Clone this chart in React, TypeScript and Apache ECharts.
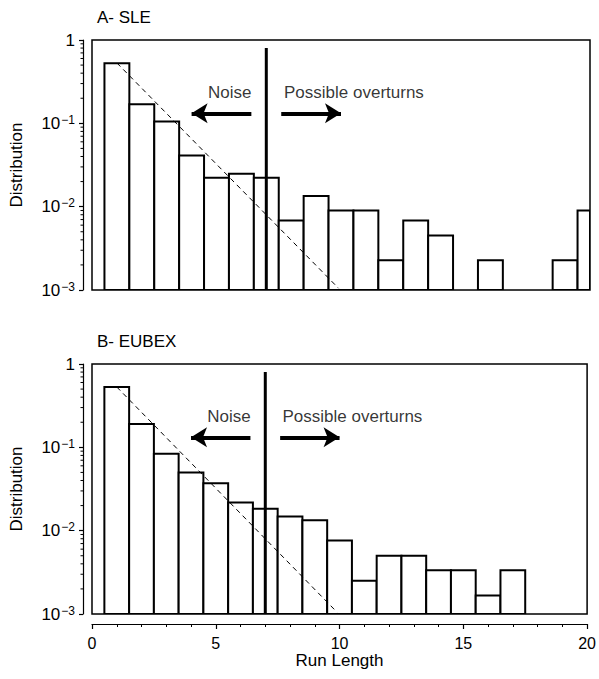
import React, { useEffect, useRef } from "react";
import * as echarts from "echarts";

const FONT = "'Liberation Sans', Arial, Helvetica, sans-serif";

const runLengths = [1, 2, 3, 4, 5, 6, 7, 8, 9, 10, 11, 12, 13, 14, 15, 16, 17, 18, 19, 20];
const sleDistribution = [0.525, 0.169, 0.105, 0.041, 0.0223, 0.0249, 0.0223, 0.0068, 0.0134, 0.009, 0.009, 0.00227, 0.0068, 0.0045, 0, 0.00227, 0, 0, 0.00227, 0.009];
const eubexDistribution = [0.53, 0.19, 0.084, 0.05, 0.037, 0.0218, 0.0183, 0.0148, 0.0133, 0.0076, 0.0025, 0.005, 0.005, 0.00334, 0.00334, 0.00167, 0.00334, 0, 0, 0];
const panelTitles = ["A- SLE", "B- EUBEX"];
const noiseFitLine = [[1, 0.53], [9.9, 0.00105]];
const thresholdLine = [[7, 0.8], [7, 0.001]];
const noiseArrow = [[6.4, 0.132], [4.0, 0.132]];
const overturnArrow = [[7.6, 0.132], [10.0, 0.132]];
const annotationLabels = [
  { name: "Noise", value: [5.53, 0.233] },
  { name: "Possible overturns", value: [10.52, 0.233] },
];
const yMinorMultipliers = [2, 3, 4, 5, 6, 7, 8, 9];
const yDecades = [0.001, 0.01, 0.1];
const Y_MIN = 0.001;
const Y_MAX = 1;
const X_MIN = 0;
const X_MAX = 20;

const minorTickValues: number[] = [];
yDecades.forEach((d) => yMinorMultipliers.forEach((m) => minorTickValues.push(m * d)));

function buildOption() {
  const panels = [sleDistribution, eubexDistribution];
  const gridTops = [40, 364];
  const series: any[] = [];
  const xAxis: any[] = [];
  const yAxis: any[] = [];
  const grid: any[] = [];
  const title: any[] = [];

  panels.forEach((dist, i) => {
    grid.push({
      left: 92,
      top: gridTops[i],
      width: 498,
      height: 250,
      show: true,
      borderColor: "#000",
      borderWidth: 1.5,
      backgroundColor: "rgba(0,0,0,0)",
    });
    title.push({
      text: panelTitles[i],
      left: 92,
      top: gridTops[i] - 36,
      textStyle: { fontFamily: FONT, fontSize: 17, fontWeight: "normal", color: "#000" },
    });
    const isBottom = i === 1;
    xAxis.push({
      gridIndex: i,
      type: "value",
      min: X_MIN,
      max: X_MAX,
      interval: 5,
      show: isBottom,
      position: "bottom",
      offset: 10,
      axisLine: { show: true, onZero: false, lineStyle: { color: "#000", width: 1.2 } },
      axisTick: { show: true, length: 5, lineStyle: { color: "#000", width: 1.2 } },
      minorTick: { show: true, splitNumber: 5, length: 3, lineStyle: { color: "#000", width: 1 } },
      splitLine: { show: false },
      minorSplitLine: { show: false },
      axisLabel: { show: true, margin: 11, color: "#000", fontFamily: FONT, fontSize: 16 },
      name: isBottom ? "Run Length" : "",
      nameLocation: "middle",
      nameGap: 25,
      nameTextStyle: { fontFamily: FONT, fontSize: 17, color: "#000" },
    });
    yAxis.push({
      gridIndex: i,
      type: "log",
      logBase: 10,
      min: Y_MIN,
      max: Y_MAX,
      offset: 9,
      position: "left",
      axisLine: { show: true, onZero: false, lineStyle: { color: "#000", width: 1.2 } },
      axisTick: { show: true, length: 4, lineStyle: { color: "#000", width: 1.2 } },
      splitLine: { show: false },
      axisLabel: {
        margin: 8,
        color: "#000",
        fontFamily: FONT,
        fontSize: 17,
        formatter: (v: number) => {
          const e = Math.round(Math.log10(v));
          return e === 0 ? "{b|1}" : `{b|10}{s|\u2212${-e}}`;
        },
        rich: {
          b: { fontFamily: FONT, fontSize: 17, color: "#000" },
          s: { fontFamily: FONT, fontSize: 12, color: "#000", verticalAlign: "top", padding: [0, 0, 7, 1] },
        },
      },
      name: "Distribution",
      nameLocation: "middle",
      nameGap: 58,
      nameTextStyle: { fontFamily: FONT, fontSize: 17, color: "#000" },
    });

    series.push({
      type: "custom",
      xAxisIndex: i,
      yAxisIndex: i,
      clip: true,
      z: 2,
      data: runLengths.map((r, k) => [r, dist[k]]).filter((d) => d[1] > 0),
      renderItem: (params: any, api: any) => {
        const x = api.value(0);
        const v = api.value(1);
        const p0 = api.coord([x - 0.5, v]);
        const p1 = api.coord([Math.min(x + 0.5, X_MAX), Y_MIN]);
        return {
          type: "rect",
          shape: { x: p0[0], y: p0[1], width: p1[0] - p0[0], height: p1[1] - p0[1] },
          style: { fill: "#fff", stroke: "#000", lineWidth: 2 },
        };
      },
    });

    series.push({
      type: "custom",
      xAxisIndex: i,
      yAxisIndex: i,
      clip: false,
      silent: true,
      z: 1,
      data: minorTickValues.map((v) => [X_MIN, v]),
      renderItem: (params: any, api: any) => {
        const p = api.coord([api.value(0), api.value(1)]);
        const ax = p[0] - 9;
        return {
          type: "line",
          shape: { x1: ax, y1: p[1], x2: ax - 2.5, y2: p[1] },
          style: { stroke: "#000", lineWidth: 1 },
        };
      },
    });

    series.push({
      type: "line",
      xAxisIndex: i,
      yAxisIndex: i,
      z: 3,
      symbol: "none",
      data: noiseFitLine,
      lineStyle: { color: "#000", width: 1, type: [5, 4] },
    });

    series.push({
      type: "line",
      xAxisIndex: i,
      yAxisIndex: i,
      z: 4,
      symbol: "none",
      data: thresholdLine,
      lineStyle: { color: "#000", width: 3 },
      markLine: {
        silent: true,
        symbol: ["none", "arrow"],
        symbolSize: [15, 16],
        label: { show: false },
        lineStyle: { color: "#000", width: 4, type: "solid" },
        data: [
          [{ coord: noiseArrow[0] }, { coord: noiseArrow[1] }],
          [{ coord: overturnArrow[0] }, { coord: overturnArrow[1] }],
        ],
      },
    });

    series.push({
      type: "scatter",
      xAxisIndex: i,
      yAxisIndex: i,
      z: 5,
      symbolSize: 1,
      itemStyle: { color: "rgba(0,0,0,0)" },
      data: annotationLabels,
      label: {
        show: true,
        position: "inside",
        formatter: "{b}",
        color: "#000",
        fontFamily: FONT,
        fontSize: 17,
      },
    });
  });

  return {
    animation: false,
    backgroundColor: "#fff",
    title,
    grid,
    xAxis,
    yAxis,
    series,
  };
}

export default function App() {
  const ref = useRef<HTMLDivElement>(null);
  useEffect(() => {
    document.body.style.margin = "0";
    if (!ref.current) return;
    const chart = echarts.init(ref.current, undefined, { renderer: "svg" });
    chart.setOption(buildOption() as any);
    return () => chart.dispose();
  }, []);
  return <div ref={ref} style={{ width: 599, height: 679 }} />;
}
